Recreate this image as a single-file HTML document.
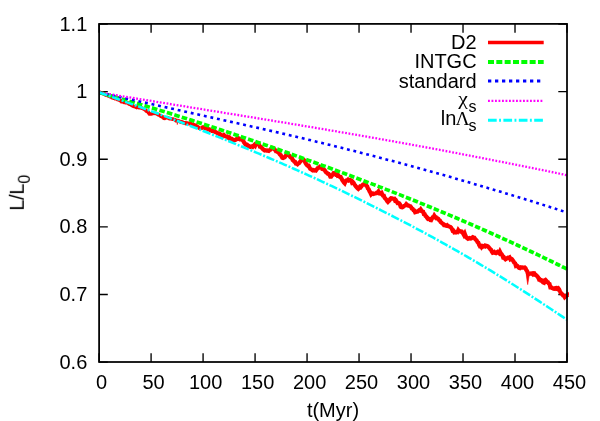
<!DOCTYPE html>
<html><head><meta charset="utf-8"><title>L/L0 vs t</title>
<style>html,body{margin:0;padding:0;background:#fff}body{width:600px;height:421px;overflow:hidden;font-family:"Liberation Sans",sans-serif}</style></head>
<body>
<svg width="600" height="421" viewBox="0 0 600 421" style="display:block">
<rect width="600" height="421" fill="#fff"/>
<path d="M99.10,362.0v-8.8M99.10,23.9v8.8M151.09,362.0v-8.8M151.09,23.9v8.8M203.08,362.0v-8.8M203.08,23.9v8.8M255.07,362.0v-8.8M255.07,23.9v8.8M307.06,362.0v-8.8M307.06,23.9v8.8M359.04,362.0v-8.8M359.04,23.9v8.8M411.03,362.0v-8.8M411.03,23.9v8.8M463.02,362.0v-8.8M463.02,23.9v8.8M515.01,362.0v-8.8M515.01,23.9v8.8M567.00,362.0v-8.8M567.00,23.9v8.8M99.1,362.15h8.7M567.0,362.15h-8.7M99.1,294.53h8.7M567.0,294.53h-8.7M99.1,226.91h8.7M567.0,226.91h-8.7M99.1,159.29h8.7M567.0,159.29h-8.7M99.1,91.67h8.7M567.0,91.67h-8.7M99.1,24.05h8.7M567.0,24.05h-8.7" stroke="#000" stroke-width="1.35" fill="none"/>
<g fill="none" stroke-linejoin="round" clip-path="url(#c)">
<path d="M99.1,92.49 L99.9,92.40 L100.7,92.78 L101.5,93.14 L102.3,93.26 L103.1,93.69 L103.9,94.01 L104.7,94.06 L105.5,94.83 L106.3,95.11 L107.1,95.26 L107.9,95.67 L108.7,96.12 L109.5,96.33 L110.3,96.68 L111.1,96.82 L111.9,97.49 L112.7,97.74 L113.5,98.03 L114.3,97.95 L115.1,98.68 L115.9,98.64 L116.7,98.77 L117.5,99.48 L118.3,99.53 L119.1,99.76 L119.9,100.43 L120.7,100.59 L121.5,101.59 L122.3,101.64 L123.1,101.78 L123.9,102.24 L124.7,101.92 L125.5,102.47 L126.3,102.22 L127.1,102.73 L127.9,102.92 L128.7,103.69 L129.5,104.10 L130.3,104.20 L131.1,104.95 L131.9,105.30 L132.7,105.98 L133.5,106.28 L134.3,106.53 L135.1,106.70 L135.9,107.12 L136.7,107.44 L137.5,107.05 L138.3,106.93 L139.1,107.56 L139.9,107.51 L140.7,107.78 L141.5,108.10 L142.3,108.32 L143.1,108.57 L143.9,108.67 L144.7,109.50 L145.5,110.02 L146.3,110.98 L147.1,111.39 L147.9,111.80 L148.7,112.87 L149.5,113.93 L150.3,114.02 L151.1,113.99 L151.9,113.67 L152.7,113.37 L153.5,113.19 L154.3,112.80 L155.1,113.40 L155.9,113.29 L156.7,113.67 L157.5,114.30 L158.3,114.77 L159.1,114.91 L159.9,115.54 L160.7,116.13 L161.5,116.44 L162.3,116.62 L163.1,117.65 L163.9,118.16 L164.7,118.27 L165.5,117.84 L166.3,117.76 L167.1,117.61 L167.9,117.78 L168.7,118.31 L169.5,118.56 L170.3,118.57 L171.1,118.75 L171.9,118.98 L172.7,119.05 L173.5,119.28 L174.3,119.42 L175.1,119.82 L175.9,120.61 L176.7,120.57 L177.5,120.58 L178.3,120.85 L179.1,121.06 L179.9,121.65 L180.7,121.96 L181.5,121.81 L182.3,122.47 L183.1,122.41 L183.9,123.07 L184.7,122.95 L185.5,123.45 L186.3,123.02 L187.1,123.12 L187.9,123.32 L188.7,123.56 L189.5,123.51 L190.3,123.20 L191.1,123.79 L191.9,124.07 L192.7,124.28 L193.5,124.54 L194.3,125.45 L195.1,125.24 L195.9,125.46 L196.7,126.23 L197.5,126.67 L198.3,127.25 L199.1,128.09 L199.9,128.38 L200.7,128.24" stroke="#f00" stroke-width="3.7" stroke-linejoin="miter" stroke-miterlimit="3"/>
<path d="M200.7,128.24 L201.5,128.08 L202.3,127.60 L203.1,127.26 L203.9,127.50 L204.7,127.78 L205.5,128.29 L206.3,128.28 L207.1,128.40 L207.9,129.22 L208.7,129.17 L209.5,129.32 L210.3,130.25 L211.1,130.29 L211.9,130.92 L212.7,130.97 L213.5,131.14 L214.3,131.42 L215.1,131.94 L215.9,132.36 L216.7,132.59 L217.5,133.14 L218.3,133.20 L219.1,134.02 L219.9,133.93 L220.7,134.72 L221.5,135.21 L222.3,135.53 L223.1,135.90 L223.9,135.19 L224.7,136.04 L225.5,136.39 L226.3,136.64 L227.1,136.49 L227.9,137.27 L228.7,138.08 L229.5,137.52 L230.3,138.49 L231.1,139.09 L231.9,139.02 L232.7,139.84 L233.5,139.82 L234.3,140.19 L235.1,140.04 L235.9,139.76 L236.7,138.97 L237.5,138.74 L238.3,138.09 L239.1,138.63 L239.9,139.28 L240.7,139.24 L241.5,138.75 L242.3,139.87 L243.1,140.60 L243.9,142.14 L244.7,143.31 L245.5,144.51 L246.3,144.81 L247.1,144.75 L247.9,145.43 L248.7,146.51 L249.5,146.42 L250.3,146.88 L251.1,146.62 L251.9,146.30 L252.7,146.75 L253.5,145.82 L254.3,144.95 L255.1,145.76 L255.9,143.92 L256.7,143.91 L257.5,143.60 L258.3,144.01 L259.1,144.67 L259.9,146.72 L260.7,146.87 L261.5,147.57 L262.3,148.46 L263.1,149.40 L263.9,149.81 L264.7,150.45 L265.5,150.30 L266.3,150.53 L267.1,150.35 L267.9,150.72 L268.7,150.91 L269.5,150.17 L270.3,149.82 L271.1,148.73 L271.9,147.88 L272.7,147.80 L273.5,148.23 L274.3,149.30 L275.1,149.94 L275.9,151.21 L276.7,151.23 L277.5,151.90 L278.3,152.28 L279.1,153.38 L279.9,154.52 L280.7,155.07 L281.5,156.37 L282.3,157.70 L283.1,158.03 L283.9,157.60 L284.7,157.34 L285.5,156.08 L286.3,154.99 L287.1,154.55 L287.9,154.87 L288.7,155.14 L289.5,155.88 L290.3,156.98 L291.1,157.70 L291.9,157.98 L292.7,160.05 L293.5,160.53 L294.3,161.70 L295.1,161.87 L295.9,163.56 L296.7,163.69 L297.5,164.32 L298.3,163.53 L299.1,163.09 L299.9,162.03 L300.7,160.92 L301.5,160.15 L302.3,159.57 L303.1,160.05 L303.9,160.11 L304.7,161.13 L305.5,162.92 L306.3,164.20 L307.1,165.23 L307.9,165.87 L308.7,165.74 L309.5,167.45 L310.3,168.82 L311.1,169.25 L311.9,169.77 L312.7,170.36 L313.5,170.07 L314.3,170.51 L315.1,170.23 L315.9,170.50 L316.7,169.53 L317.5,168.25 L318.3,168.03 L319.1,167.56 L319.9,166.65 L320.7,166.93 L321.5,166.87 L322.3,168.92 L323.1,169.14 L323.9,169.31 L324.7,170.17 L325.5,171.46 L326.3,172.54 L327.1,172.89 L327.9,173.82 L328.7,174.01 L329.5,174.86 L330.3,176.65 L331.1,176.62 L331.9,175.47 L332.7,174.83 L333.5,173.12 L334.3,173.01 L335.1,173.86 L335.9,174.72 L336.7,174.51 L337.5,175.74 L338.3,175.41 L339.1,176.44 L339.9,176.90 L340.7,176.99 L341.5,178.58 L342.3,180.08 L343.1,181.17 L343.9,182.44 L344.7,183.25 L345.5,181.44 L346.3,180.49 L347.1,180.30 L347.9,179.67 L348.7,180.50 L349.5,180.21 L350.3,180.05 L351.1,180.48 L351.9,182.41 L352.7,181.78 L353.5,182.68 L354.3,184.09 L355.1,185.32 L355.9,186.44 L356.7,187.37 L357.5,188.21 L358.3,188.92 L359.1,188.09 L359.9,186.79 L360.7,187.25 L361.5,186.29 L362.3,185.12 L363.1,184.53 L363.9,184.30 L364.7,183.70 L365.5,183.84 L366.3,185.69 L367.1,186.34 L367.9,188.53 L368.7,189.19 L369.5,191.20 L370.3,192.53 L371.1,194.27 L371.9,193.43 L372.7,193.42 L373.5,193.89 L374.3,193.69 L375.1,193.55 L375.9,193.28 L376.7,192.63 L377.5,192.50 L378.3,191.55 L379.1,193.39 L379.9,193.51 L380.7,193.00 L381.5,192.73 L382.3,194.62 L383.1,195.75 L383.9,195.79 L384.7,197.88 L385.5,198.77 L386.3,199.49 L387.1,201.07 L387.9,201.91 L388.7,201.07 L389.5,200.36 L390.3,198.89 L391.1,198.12 L391.9,198.19 L392.7,198.61 L393.5,198.72 L394.3,198.66 L395.1,200.56 L395.9,200.25 L396.7,201.66 L397.5,203.03 L398.3,202.89 L399.1,203.21 L399.9,204.31 L400.7,206.88 L401.5,207.27 L402.3,207.41 L403.1,206.93 L403.9,206.01 L404.7,205.66 L405.5,205.21 L406.3,204.13 L407.1,204.82 L407.9,205.57 L408.7,205.66 L409.5,206.05 L410.3,206.16 L411.1,207.11 L411.9,208.54 L412.7,208.92 L413.5,210.17 L414.3,210.40 L415.1,212.21 L415.9,211.92 L416.7,211.71 L417.5,211.63 L418.3,210.99 L419.1,210.23 L419.9,210.46 L420.7,209.39 L421.5,210.62 L422.3,211.39 L423.1,211.70 L423.9,214.16 L424.7,214.26 L425.5,215.86 L426.3,216.29 L427.1,217.88 L427.9,218.90 L428.7,218.66 L429.5,218.97 L430.3,219.99 L431.1,220.12 L431.9,218.51 L432.7,217.37 L433.5,217.37 L434.3,215.73 L435.1,216.93 L435.9,217.06 L436.7,218.38 L437.5,218.43 L438.3,218.88 L439.1,220.07 L439.9,220.47 L440.7,222.09 L441.5,222.68 L442.3,223.55 L443.1,223.86 L443.9,225.01 L444.7,224.93 L445.5,225.55 L446.3,225.71 L447.1,225.23 L447.9,226.02 L448.7,226.16 L449.5,226.63 L450.3,226.91 L451.1,227.54 L451.9,228.93 L452.7,230.77 L453.5,230.72 L454.3,232.43 L455.1,232.28 L455.9,232.54 L456.7,232.04 L457.5,232.15 L458.3,230.26 L459.1,231.31 L459.9,231.12 L460.7,231.56 L461.5,231.48 L462.3,232.12 L463.1,233.56 L463.9,234.96 L464.7,233.56 L465.5,235.83 L466.3,237.25 L467.1,238.18 L467.9,238.68 L468.7,238.18 L469.5,238.06 L470.3,238.56 L471.1,238.47 L471.9,237.79 L472.7,237.18 L473.5,237.54 L474.3,237.67 L475.1,238.92 L475.9,239.83 L476.7,240.59 L477.5,242.14 L478.3,242.65 L479.1,244.84 L479.9,246.22 L480.7,246.02 L481.5,247.12 L482.3,246.04 L483.1,246.53 L483.9,246.15 L484.7,245.60 L485.5,246.34 L486.3,245.76 L487.1,245.89 L487.9,246.42 L488.7,247.36 L489.5,248.07 L490.3,249.17 L491.1,249.81 L491.9,251.67 L492.7,252.82 L493.5,252.53 L494.3,251.99 L495.1,252.93 L495.9,253.11 L496.7,252.45 L497.5,251.88 L498.3,252.67 L499.1,253.31 L499.9,251.58 L500.7,253.18 L501.5,253.97 L502.3,255.30 L503.1,257.34 L503.9,257.22 L504.7,258.48 L505.5,259.32 L506.3,258.85 L507.1,258.25 L507.9,257.69 L508.7,257.84 L509.5,257.45 L510.3,259.22 L511.1,258.68 L511.9,259.19 L512.7,260.18 L513.5,261.40 L514.3,262.83 L515.1,263.32 L515.9,265.81 L516.7,265.45 L517.5,266.10 L518.3,267.08 L519.1,267.99 L519.9,268.20 L520.7,267.36 L521.5,267.67 L522.3,267.48 L523.1,267.55 L523.9,267.47 L524.7,267.40 L525.5,268.15 L526.3,270.05 L527.1,270.93 L527.9,273.90 L528.7,274.00 L529.5,273.45 L530.3,273.62 L531.1,273.35 L531.9,273.51 L532.7,274.26 L533.5,273.26 L534.3,273.30 L535.1,274.77 L535.9,274.89 L536.7,275.59 L537.5,276.58 L538.3,277.60 L539.1,279.50 L539.9,279.42 L540.7,280.35 L541.5,280.19 L542.3,280.54 L543.1,282.33 L543.9,282.67 L544.7,280.47 L545.5,279.95 L546.3,280.84 L547.1,282.13 L547.9,282.22 L548.7,283.55 L549.5,283.99 L550.3,287.23 L551.1,287.12 L551.9,288.00 L552.7,288.26 L553.5,288.73 L554.3,288.78 L555.1,288.30 L555.9,288.76 L556.7,288.24 L557.5,288.96 L558.3,288.42 L559.1,289.46 L559.9,291.17 L560.7,292.72 L561.5,293.46 L562.3,294.28 L563.1,295.48 L563.9,295.70 L564.7,297.10 L565.5,296.31 L566.3,296.15 L567.1,295.35 L567.9,294.71 L568.7,295.56" stroke="#f00" stroke-width="4.2" stroke-linejoin="miter" stroke-miterlimit="3"/>
<path d="M526.3,275.5L527.7,284.6L529.2,275.5ZM176.6,120L177.3,124.6L178.2,120Z" fill="#f00" stroke="#f00" stroke-width="0.6" stroke-linejoin="miter"/>
<path d="M99.10,92.42L101.82,93.20L104.55,93.99M106.66,94.60L109.38,95.39L112.11,96.17M114.22,96.78L116.95,97.57L119.67,98.36M121.78,98.97L124.50,99.76L127.22,100.55M129.33,101.17L132.05,101.96L134.77,102.76M136.87,103.38L139.58,104.18L142.30,104.99M144.40,105.61L147.10,106.42L149.81,107.24M151.90,107.87L154.60,108.69L157.30,109.52M159.39,110.16L162.08,110.98L164.77,111.82M166.86,112.46L169.54,113.30L172.22,114.14M174.31,114.79L176.98,115.64L179.66,116.48M181.74,117.14L184.41,117.99L187.09,118.85M189.16,119.51L191.83,120.37L194.49,121.23M196.57,121.89L199.23,122.75L201.89,123.62M203.96,124.29L206.62,125.16L209.28,126.03M211.34,126.71L213.99,127.58L216.65,128.45M218.71,129.14L221.35,130.01L224.00,130.90M226.06,131.58L228.70,132.47L231.35,133.35M233.40,134.04L236.04,134.93L238.68,135.83M240.73,136.52L243.36,137.42L245.99,138.32M248.04,139.01L250.67,139.91L253.30,140.82M255.34,141.52L257.97,142.43L260.59,143.33M262.63,144.04L265.25,144.95L267.87,145.86M269.91,146.57L272.52,147.49L275.14,148.41M277.17,149.12L279.79,150.04L282.40,150.96M284.43,151.68L287.03,152.61L289.64,153.53M291.66,154.26L294.27,155.19L296.87,156.12M298.89,156.84L301.49,157.78L304.09,158.72M306.11,159.45L308.70,160.39L311.30,161.33M313.31,162.06L315.90,163.01L318.49,163.95M320.50,164.69L323.09,165.64L325.68,166.59M327.69,167.32L330.27,168.28L332.85,169.23M334.86,169.97L337.44,170.93L340.02,171.88M342.02,172.63L344.60,173.59L347.18,174.55M349.17,175.30L351.75,176.26L354.32,177.23M356.31,177.98L358.88,178.95L361.45,179.92M363.44,180.67L366.00,181.65L368.56,182.63M370.55,183.39L373.11,184.37L375.66,185.35M377.65,186.11L380.20,187.10L382.75,188.09M384.73,188.86L387.27,189.85L389.81,190.84M391.79,191.62L394.33,192.62L396.86,193.62M398.83,194.40L401.36,195.40L403.90,196.41M405.86,197.19L408.38,198.20L410.91,199.22M412.87,200.01L415.39,201.02L417.91,202.04M419.86,202.84L422.37,203.86L424.88,204.89M426.83,205.68L429.34,206.71L431.84,207.75M433.79,208.55L436.29,209.59L438.78,210.63M440.72,211.43L443.21,212.48L445.70,213.52M447.64,214.34L450.12,215.39L452.61,216.44M454.53,217.26L457.01,218.31L459.49,219.37M461.41,220.20L463.88,221.26L466.35,222.33M468.26,223.16L470.73,224.22L473.19,225.30M475.10,226.13L477.55,227.21L480.01,228.29M481.91,229.13L484.36,230.21L486.81,231.30M488.70,232.14L491.14,233.23L493.58,234.32M495.47,235.17L497.90,236.27L500.34,237.37M502.22,238.23L504.64,239.33L507.07,240.44M508.95,241.30L511.36,242.41L513.78,243.52M515.65,244.39L518.06,245.51L520.46,246.63M522.33,247.50L524.73,248.62L527.13,249.75M528.99,250.63L531.38,251.76L533.77,252.89M535.62,253.78L538.01,254.91L540.39,256.05M542.24,256.94L544.61,258.08L546.99,259.23M548.83,260.13L551.19,261.28L553.56,262.43M555.39,263.33L557.75,264.49L560.11,265.65M561.94,266.55L564.28,267.72L566.63,268.88" stroke="#0f0" stroke-width="3.7"/>
<path d="M99.10,92.49L101.91,93.11M105.65,93.94L108.46,94.56M112.20,95.39L115.01,96.01M118.76,96.83L121.56,97.45M125.31,98.28L128.12,98.90M131.86,99.73L134.67,100.35M138.41,101.18L141.22,101.80M144.96,102.63L147.77,103.25M151.51,104.09L154.32,104.71M158.06,105.54L160.86,106.17M164.60,107.00L167.41,107.63M171.15,108.47L173.95,109.10M177.69,109.93L180.49,110.56M184.23,111.40L187.03,112.03M190.77,112.87L193.57,113.50M197.31,114.33L200.11,114.96M203.85,115.80L206.66,116.43M210.40,117.26L213.20,117.89M216.94,118.72L219.75,119.34M223.49,120.18L226.30,120.80M230.04,121.63L232.84,122.26M236.58,123.09L239.39,123.72M243.13,124.55L245.93,125.18M249.67,126.02L252.47,126.65M256.21,127.49L259.01,128.13M262.74,128.97L265.53,129.61M269.26,130.47L272.05,131.11M275.78,131.97L278.57,132.62M282.28,133.49L285.07,134.14M288.79,135.02L291.57,135.67M295.28,136.55L298.06,137.21M301.77,138.10L304.55,138.76M308.25,139.66L311.02,140.33M314.72,141.22L317.49,141.90M321.19,142.80L323.96,143.48M327.65,144.39L330.41,145.07M334.10,145.99L336.86,146.68M340.54,147.60L343.30,148.29M346.97,149.22L349.73,149.92M353.40,150.85L356.15,151.56M359.82,152.50L362.56,153.21M366.23,154.15L368.97,154.86M372.63,155.82L375.37,156.53M379.02,157.49L381.76,158.21M385.41,159.17L388.15,159.90M391.79,160.86L394.53,161.59M398.17,162.57L400.90,163.30M404.53,164.28L407.26,165.02M410.89,166.01L413.61,166.75M417.24,167.74L419.95,168.49M423.58,169.49L426.29,170.24M429.90,171.25L432.61,172.00M436.22,173.02L438.93,173.78M442.53,174.80L445.24,175.57M448.83,176.60L451.53,177.37M455.13,178.40L457.82,179.18M461.41,180.22L464.10,181.00M467.68,182.05L470.36,182.83M473.94,183.88L476.63,184.67M480.20,185.73L482.88,186.53M486.45,187.59L489.12,188.38M492.69,189.45L495.37,190.25M498.93,191.32L501.60,192.12M505.16,193.19L507.83,194.00M511.39,195.08L514.05,195.88M517.61,196.97L520.27,197.78M523.82,198.86L526.48,199.68M530.02,200.77L532.68,201.59M536.21,202.69L538.86,203.52M542.39,204.63L545.04,205.46M548.56,206.57L551.20,207.41M554.71,208.54L557.35,209.38M560.85,210.51L563.48,211.37M566.98,212.51L567.00,212.52" stroke="#00f" stroke-width="2.6"/>
<path d="M99.10,92.45L100.83,92.74M102.47,93.01L104.20,93.29M105.84,93.56L107.57,93.85M109.21,94.12L110.95,94.40M112.59,94.67L114.32,94.95M115.96,95.22L117.69,95.50M119.33,95.77L121.07,96.05M122.70,96.31L124.44,96.60M126.08,96.86L127.81,97.14M129.45,97.41L131.19,97.69M132.83,97.96L134.56,98.24M136.20,98.51L137.93,98.79M139.57,99.05L141.31,99.34M142.95,99.60L144.68,99.89M146.32,100.15L148.05,100.43M149.69,100.70L151.43,100.98M153.07,101.25L154.80,101.53M156.44,101.80L158.17,102.08M159.81,102.35L161.55,102.63M163.18,102.90L164.92,103.18M166.56,103.45L168.29,103.73M169.93,104.00L171.66,104.28M173.30,104.55L175.04,104.83M176.68,105.10L178.41,105.38M180.05,105.65L181.78,105.93M183.42,106.20L185.16,106.48M186.80,106.75L188.53,107.03M190.17,107.29L191.91,107.58M193.54,107.84L195.28,108.12M196.92,108.39L198.65,108.67M200.29,108.94L202.03,109.22M203.67,109.48L205.40,109.77M207.04,110.03L208.78,110.31M210.41,110.58L212.15,110.86M213.79,111.13L215.52,111.41M217.16,111.67L218.90,111.96M220.54,112.22L222.27,112.50M223.91,112.77L225.64,113.05M227.28,113.32L229.02,113.60M230.66,113.87L232.39,114.15M234.03,114.41L235.77,114.70M237.40,114.96L239.14,115.24M240.78,115.51L242.51,115.79M244.15,116.06L245.89,116.34M247.52,116.61L249.26,116.89M250.90,117.16L252.63,117.44M254.27,117.71L256.00,117.99M257.64,118.26L259.38,118.54M261.01,118.81L262.75,119.09M264.39,119.36L266.12,119.65M267.76,119.91L269.49,120.20M271.13,120.47L272.86,120.75M274.50,121.02L276.23,121.31M277.87,121.58L279.61,121.86M281.24,122.13L282.98,122.42M284.61,122.69L286.34,122.97M287.98,123.24L289.71,123.53M291.35,123.80L293.08,124.09M294.72,124.36L296.45,124.65M298.09,124.92L299.82,125.21M301.45,125.49L303.18,125.77M304.82,126.05L306.55,126.34M308.18,126.61L309.92,126.90M311.55,127.18L313.28,127.47M314.91,127.75L316.64,128.04M318.28,128.32L320.01,128.61M321.64,128.89L323.37,129.18M325.00,129.46L326.73,129.75M328.37,130.03L330.09,130.33M331.73,130.60L333.46,130.90M335.09,131.18L336.82,131.48M338.45,131.76L340.18,132.05M341.81,132.33L343.53,132.63M345.17,132.91L346.89,133.21M348.52,133.49L350.25,133.79M351.88,134.07L353.61,134.37M355.24,134.66L356.96,134.96M358.59,135.24L360.32,135.54M361.95,135.83L363.67,136.13M365.30,136.41L367.03,136.72M368.66,137.00L370.38,137.31M372.01,137.59L373.74,137.90M375.36,138.18L377.09,138.49M378.72,138.78L380.44,139.08M382.07,139.37L383.79,139.68M385.42,139.97L387.14,140.27M388.77,140.56L390.49,140.87M392.11,141.16L393.84,141.47M395.46,141.77L397.18,142.08M398.81,142.37L400.53,142.68M402.15,142.97L403.87,143.28M405.50,143.58L407.22,143.89M408.84,144.19L410.56,144.50M412.19,144.80L413.91,145.11M415.53,145.41L417.25,145.72M418.87,146.02L420.59,146.34M422.21,146.64L423.93,146.95M425.55,147.25L427.26,147.57M428.89,147.87L430.60,148.19M432.22,148.49L433.94,148.82M435.56,149.12L437.27,149.44M438.89,149.74L440.61,150.07M442.23,150.37L443.94,150.69M445.56,151.00L447.27,151.32M448.89,151.63L450.60,151.96M452.22,152.27L453.93,152.59M455.55,152.90L457.26,153.23M458.88,153.54L460.59,153.87M462.20,154.18L463.91,154.51M465.53,154.82L467.24,155.15M468.85,155.47L470.56,155.80M472.18,156.11L473.89,156.44M475.50,156.76L477.21,157.09M478.82,157.41L480.53,157.74M482.14,158.06L483.85,158.39M485.46,158.71L487.17,159.04M488.78,159.36L490.49,159.70M492.10,160.02L493.81,160.35M495.42,160.67L497.13,161.01M498.74,161.32L500.44,161.66M502.06,161.98L503.76,162.32M505.37,162.64L507.08,162.97M508.69,163.29L510.40,163.63M512.01,163.95L513.71,164.29M515.32,164.61L517.03,164.95M518.64,165.27L520.34,165.61M521.95,165.93L523.65,166.27M525.26,166.60L526.97,166.94M528.58,167.26L530.28,167.61M531.89,167.93L533.59,168.28M535.20,168.60L536.90,168.95M538.50,169.28L540.20,169.62M541.81,169.95L543.51,170.30M545.11,170.63L546.81,170.98M548.41,171.32L550.11,171.67M551.71,172.00L553.41,172.36M555.01,172.70L556.70,173.05M558.30,173.39L559.99,173.75M561.59,174.09L563.28,174.46M564.88,174.80L566.57,175.16" stroke="#f0f" stroke-width="2.3"/>
<path d="M99.10,92.46L101.74,93.39L104.38,94.32L107.02,95.25M108.72,95.85L110.51,96.49M112.11,97.05L114.75,97.99L117.39,98.93L120.03,99.87M121.72,100.47L123.51,101.11M125.11,101.68L127.75,102.63L130.38,103.58L133.02,104.52M134.71,105.14L136.50,105.78M138.09,106.36L140.73,107.32L143.36,108.28L145.99,109.24M147.68,109.86L149.46,110.51M151.05,111.10L153.68,112.07L156.31,113.05L158.93,114.02M160.62,114.65L162.40,115.32M163.99,115.91L166.61,116.90L169.23,117.89L171.85,118.88M173.53,119.52L175.31,120.19M176.90,120.80L179.51,121.80L182.13,122.80L184.74,123.80M186.42,124.45L188.19,125.13M189.78,125.75L192.39,126.76L195.00,127.77L197.61,128.79M199.28,129.45L201.05,130.14M202.63,130.76L205.24,131.79L207.84,132.81L210.45,133.85M212.12,134.51L213.89,135.21M215.47,135.84L218.06,136.88L220.66,137.92L223.26,138.97M224.93,139.64L226.69,140.35M228.27,140.99L230.86,142.04L233.45,143.10L236.05,144.16M237.71,144.84L239.47,145.57M241.04,146.21L243.63,147.28L246.22,148.35L248.80,149.43M250.46,150.12L252.22,150.85M253.79,151.51L256.37,152.59L258.95,153.68L261.53,154.77M263.18,155.47L264.93,156.21M266.50,156.88L269.07,157.98L271.65,159.08L274.22,160.19M275.87,160.90L277.62,161.66M279.18,162.33L281.74,163.45L284.31,164.57L286.87,165.69M288.52,166.41L290.26,167.18M291.82,167.86L294.38,169.00L296.94,170.13L299.49,171.28M301.14,172.01L302.87,172.79M304.42,173.49L306.97,174.64L309.52,175.79L312.07,176.95M313.71,177.70L315.44,178.49M316.98,179.20L319.52,180.37L322.06,181.55L324.60,182.74M326.23,183.50L327.95,184.30M329.49,185.03L332.02,186.22L334.55,187.42L337.08,188.62M338.71,189.40L340.42,190.22M341.95,190.96L344.47,192.17L346.99,193.39L349.52,194.61M351.13,195.40L352.84,196.23M354.37,196.98L356.88,198.21L359.39,199.45L361.91,200.68M363.52,201.48L365.22,202.33M366.75,203.08L369.25,204.33L371.76,205.58L374.26,206.83M375.87,207.64L377.57,208.49M379.09,209.25L381.59,210.52L384.08,211.78L386.58,213.05M388.19,213.87L389.88,214.73M391.39,215.50L393.88,216.78L396.37,218.06L398.86,219.35M400.46,220.18L402.14,221.05M403.65,221.84L406.13,223.14L408.61,224.44L411.09,225.74M412.68,226.58L414.36,227.47M415.86,228.27L418.33,229.59L420.80,230.91L423.27,232.23M424.85,233.09L426.52,233.99M428.02,234.80L430.48,236.14L432.93,237.48L435.39,238.83M436.97,239.69L438.63,240.61M440.12,241.43L442.57,242.79L445.01,244.15L447.46,245.52M449.03,246.40L450.69,247.33M452.17,248.17L454.60,249.54L457.04,250.93L459.47,252.32M461.03,253.21L462.68,254.16M464.15,255.00L466.58,256.40L469.00,257.81L471.42,259.22M472.98,260.12L474.61,261.09M476.08,261.95L478.49,263.37L480.90,264.79L483.31,266.23M484.85,267.15L486.48,268.13M487.94,269.00L490.33,270.45L492.73,271.90L495.12,273.36M496.66,274.30L498.28,275.29M499.72,276.18L502.10,277.65L504.48,279.13L506.86,280.61M508.39,281.57L510.00,282.58M511.43,283.49L513.80,284.98L516.16,286.48L518.53,287.98M520.05,288.95L521.65,289.97M523.08,290.89L525.43,292.40L527.79,293.92L530.14,295.44M531.65,296.42L533.24,297.45M534.67,298.38L537.02,299.91L539.36,301.44L541.71,302.97M543.21,303.96L544.80,305.00M546.22,305.93L548.56,307.47L550.89,309.02L553.23,310.56M554.73,311.56L556.31,312.61M557.72,313.56L560.05,315.11L562.37,316.67L564.70,318.24M566.19,319.25L567.00,319.80" stroke="#0ff" stroke-width="2.55"/>
</g>
<rect x="99.1" y="23.9" width="467.9" height="338.1" stroke="#000" stroke-width="1.75" fill="none"/>
<g fill="none">
<path d="M488,42.5H543.7" stroke="#f00" stroke-width="3.6"/>
<path d="M488,62H543.7" stroke="#0f0" stroke-width="4" stroke-dasharray="6 2.33"/>
<path d="M488,81.1H543.7" stroke="#00f" stroke-width="3" stroke-dasharray="3.3 3.7"/>
<path d="M488,100.9H543.7" stroke="#f0f" stroke-width="2.4" stroke-dasharray="1.85 1.65"/>
<path d="M488,120.3H543.7" stroke="#0ff" stroke-width="3.0" stroke-dasharray="8.7 2.4 1.9 2.4"/>
</g>
<g font-family="'Liberation Sans', sans-serif" font-size="20" fill="#000" style="filter:grayscale(1)">
<text x="87.3" y="368.6" text-anchor="end">0.6</text>
<text x="87.3" y="301.0" text-anchor="end">0.7</text>
<text x="87.3" y="233.4" text-anchor="end">0.8</text>
<text x="87.3" y="165.8" text-anchor="end">0.9</text>
<text x="87.3" y="98.2" text-anchor="end">1</text>
<text x="87.3" y="30.5" text-anchor="end">1.1</text>
<text x="101.6" y="388.6" text-anchor="middle">0</text>
<text x="153.6" y="388.6" text-anchor="middle">50</text>
<text x="205.6" y="388.6" text-anchor="middle">100</text>
<text x="257.6" y="388.6" text-anchor="middle">150</text>
<text x="309.6" y="388.6" text-anchor="middle">200</text>
<text x="361.5" y="388.6" text-anchor="middle">250</text>
<text x="413.5" y="388.6" text-anchor="middle">300</text>
<text x="465.5" y="388.6" text-anchor="middle">350</text>
<text x="517.5" y="388.6" text-anchor="middle">400</text>
<text x="569.5" y="388.6" text-anchor="middle">450</text>
<text x="333" y="417.4" text-anchor="middle">t(Myr)</text>
<text transform="translate(23.8,192.9) rotate(-90)" text-anchor="middle" letter-spacing="-0.3">L/L<tspan font-size="16" dy="6.2">0</tspan></text>
<text x="476.6" y="48.7" text-anchor="end">D2</text>
<text x="476.6" y="68.2" text-anchor="end">INTGC</text>
<text x="476.6" y="87.8" text-anchor="end">standard</text>
<text transform="translate(458.3,105.2) scale(1.08,0.97)" font-family="'Liberation Serif', serif">χ</text>
<text x="468.5" y="111.6" font-size="16">s</text>
<text x="440.7" y="124.9">ln</text>
<text x="455.6" y="124.9" font-family="'Liberation Serif', serif" font-size="19.5">Λ</text>
<text x="468.5" y="131.0" font-size="16">s</text>
</g>
<defs><clipPath id="c"><rect x="99.1" y="23.9" width="469.8" height="338.1"/></clipPath></defs>
</svg>
</body></html>
